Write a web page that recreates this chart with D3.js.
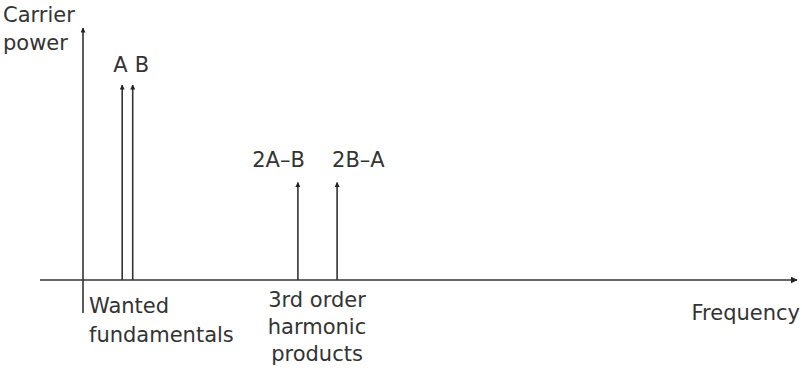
<!DOCTYPE html>
<meta charset="utf-8">
<style>
body { margin: 0; background: #fff; }
text { font-family: "Century Gothic", "URW Gothic", "DejaVu Sans", sans-serif; fill: #333; font-size: 21px; }
.axis, .carrier { stroke: #333; stroke-width: 1.6px; fill: none; }
</style>
<body>
<svg width="802" height="370"></svg>
<script src="https://cdn.jsdelivr.net/npm/d3@7"></script>
<script>

// carriers: name, frequency (arbitrary units), relative power
var names = ["A", "B", "2A\u2013B", "2B\u2013A"]
var freqs = [5.6, 7.1, 30.7, 36.3]
var powers = [1.0, 1.0, 0.5, 0.5]
var groupLabels = [["Wanted", "fundamentals"], ["3rd order", "harmonic", "products"]]

var svg = d3.select("svg")

var x = d3.scaleLinear().domain([0, 100]).range([83, 783])
var y = d3.scaleLinear().domain([0, 1]).range([280, 85])

// arrowheads
function marker(id, size) {
  svg.append("defs").append("marker")
      .attr("id", id)
      .attr("viewBox", "0 0 10 10")
      .attr("refX", 9).attr("refY", 5)
      .attr("markerWidth", size).attr("markerHeight", size)
      .attr("markerUnits", "userSpaceOnUse")
      .attr("orient", "auto")
    .append("path")
      .attr("d", "M0,0L10,5L0,10Z")
      .attr("fill", "#222")
}
marker("head", 5)
marker("bighead", 7)

// axes
svg.append("line").attr("class", "axis")
    .attr("x1", 40).attr("x2", 797)
    .attr("y1", y(0)).attr("y2", y(0))
    .attr("marker-end", "url(#bighead)")

svg.append("line").attr("class", "axis")
    .attr("x1", x(0)).attr("x2", x(0))
    .attr("y1", 313).attr("y2", 28)
    .attr("marker-end", "url(#head)")

svg.append("text").attr("x", 3).attr("y", 22).text("Carrier")
svg.append("text").attr("x", 3).attr("y", 50).text("power")
svg.append("text").attr("x", 800).attr("y", 320).attr("text-anchor", "end").text("Frequency")

// carriers
svg.selectAll(".carrier")
  .data(names)
  .enter().append("line")
    .attr("class", "carrier")
    .attr("x1", (d, i) => x(freqs[i])).attr("x2", (d, i) => x(freqs[i]))
    .attr("y1", y(0)).attr("y2", (d, i) => y(powers[i]))
    .attr("marker-end", "url(#head)")

// labels
svg.append("text").attr("x", x(freqs[0]) - 9).attr("y", 72).text(names[0])
svg.append("text").attr("x", x(freqs[1]) + 2).attr("y", 72).text(names[1])
svg.append("text").attr("x", x(freqs[2]) + 7).attr("y", 167).attr("text-anchor", "end").text(names[2])
svg.append("text").attr("x", x(freqs[3]) - 5).attr("y", 167).text(names[3])

groupLabels[0].forEach((t, i) => {
  svg.append("text").attr("x", 89).attr("y", 313 + i * 29).text(t)
})
groupLabels[1].forEach((t, i) => {
  svg.append("text").attr("x", 317).attr("y", 307 + i * 27).attr("text-anchor", "middle").text(t)
})

</script>
</body>
